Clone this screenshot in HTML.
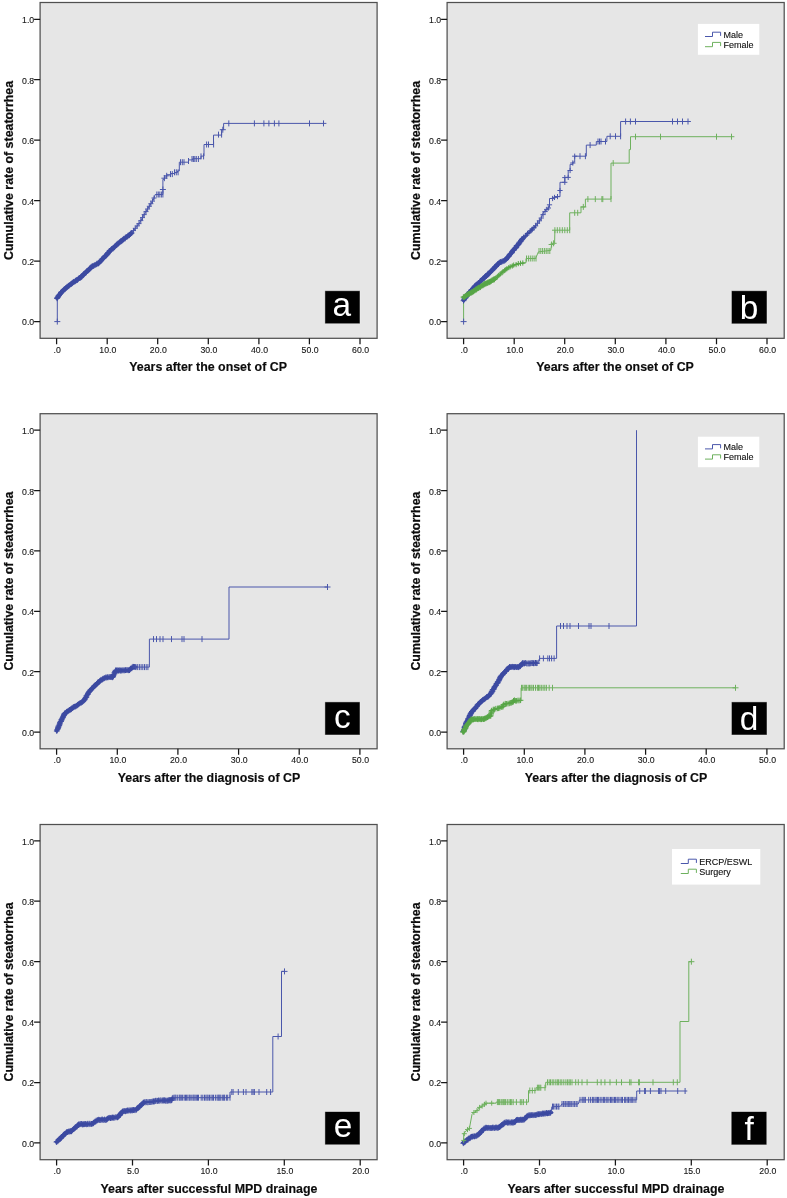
<!DOCTYPE html>
<html lang="en"><head><meta charset="utf-8"><title>Cumulative rate of steatorrhea</title>
<style>
html,body{margin:0;padding:0;background:#fff}
svg{display:block;will-change:transform;opacity:0.9999}
text{font-family:"Liberation Sans",Arial,sans-serif}
.t{font-size:9.7px;fill:#161616;stroke:#161616;stroke-width:0.12px}
.b{font-size:12.4px;font-weight:bold;fill:#0c0c0c;stroke:#0c0c0c;stroke-width:0.15px}
.v{stroke:#111;stroke-width:0.25px}
.l{font-size:9px;fill:#111;stroke:#111;stroke-width:0.12px}
.L{font-size:33.4px;fill:#fff}
</style></head><body>
<svg width="787" height="1198" viewBox="0 0 787 1198">
<rect width="787" height="1198" fill="#fff"/>
<rect x="40.1" y="2.5" width="337.0" height="335.8" fill="#e6e6e6" stroke="#505050" stroke-width="1.25"/>
<text transform="translate(34.2,325.4) scale(0.9,1)" text-anchor="end" class="t">0.0</text>
<text transform="translate(34.2,265.0) scale(0.9,1)" text-anchor="end" class="t">0.2</text>
<text transform="translate(34.2,204.5) scale(0.9,1)" text-anchor="end" class="t">0.4</text>
<text transform="translate(34.2,144.1) scale(0.9,1)" text-anchor="end" class="t">0.6</text>
<text transform="translate(34.2,83.6) scale(0.9,1)" text-anchor="end" class="t">0.8</text>
<text transform="translate(34.2,23.2) scale(0.9,1)" text-anchor="end" class="t">1.0</text>
<text transform="translate(57.2,352.6) scale(0.9,1)" text-anchor="middle" class="t">.0</text>
<text transform="translate(107.8,352.6) scale(0.9,1)" text-anchor="middle" class="t">10.0</text>
<text transform="translate(158.3,352.6) scale(0.9,1)" text-anchor="middle" class="t">20.0</text>
<text transform="translate(208.9,352.6) scale(0.9,1)" text-anchor="middle" class="t">30.0</text>
<text transform="translate(259.5,352.6) scale(0.9,1)" text-anchor="middle" class="t">40.0</text>
<text transform="translate(310.1,352.6) scale(0.9,1)" text-anchor="middle" class="t">50.0</text>
<text transform="translate(360.6,352.6) scale(0.9,1)" text-anchor="middle" class="t">60.0</text>
<path d="M34.1 321.5H40.1M34.1 261.1H40.1M34.1 200.6H40.1M34.1 140.2H40.1M34.1 79.7H40.1M34.1 19.3H40.1M56.6 338.3V344.2M107.2 338.3V344.2M157.7 338.3V344.2M208.3 338.3V344.2M258.9 338.3V344.2M309.4 338.3V344.2M360.0 338.3V344.2" stroke="#161616" stroke-width="1.25" fill="none"/>
<text x="208.1" y="370.9" text-anchor="middle" class="b">Years after the onset of CP</text>
<text transform="translate(12.7,170.4) rotate(-90)" text-anchor="middle" class="b v">Cumulative rate of steatorrhea</text>
<rect x="324.9" y="290.75" width="35.1" height="33.0" fill="#000" stroke="#f2f2f2" stroke-opacity="0.6" stroke-width="0.8"/>
<text x="332.45" y="316.20" class="L" id="La">a</text>
<rect x="447.1" y="2.5" width="337.1" height="335.8" fill="#e6e6e6" stroke="#505050" stroke-width="1.25"/>
<text transform="translate(441.2,325.4) scale(0.9,1)" text-anchor="end" class="t">0.0</text>
<text transform="translate(441.2,265.0) scale(0.9,1)" text-anchor="end" class="t">0.2</text>
<text transform="translate(441.2,204.5) scale(0.9,1)" text-anchor="end" class="t">0.4</text>
<text transform="translate(441.2,144.1) scale(0.9,1)" text-anchor="end" class="t">0.6</text>
<text transform="translate(441.2,83.6) scale(0.9,1)" text-anchor="end" class="t">0.8</text>
<text transform="translate(441.2,23.2) scale(0.9,1)" text-anchor="end" class="t">1.0</text>
<text transform="translate(464.2,352.6) scale(0.9,1)" text-anchor="middle" class="t">.0</text>
<text transform="translate(514.8,352.6) scale(0.9,1)" text-anchor="middle" class="t">10.0</text>
<text transform="translate(565.3,352.6) scale(0.9,1)" text-anchor="middle" class="t">20.0</text>
<text transform="translate(615.9,352.6) scale(0.9,1)" text-anchor="middle" class="t">30.0</text>
<text transform="translate(666.5,352.6) scale(0.9,1)" text-anchor="middle" class="t">40.0</text>
<text transform="translate(717.1,352.6) scale(0.9,1)" text-anchor="middle" class="t">50.0</text>
<text transform="translate(767.6,352.6) scale(0.9,1)" text-anchor="middle" class="t">60.0</text>
<path d="M441.1 321.5H447.1M441.1 261.1H447.1M441.1 200.6H447.1M441.1 140.2H447.1M441.1 79.7H447.1M441.1 19.3H447.1M463.6 338.3V344.2M514.2 338.3V344.2M564.7 338.3V344.2M615.3 338.3V344.2M665.9 338.3V344.2M716.5 338.3V344.2M767.0 338.3V344.2" stroke="#161616" stroke-width="1.25" fill="none"/>
<text x="615.0" y="370.9" text-anchor="middle" class="b">Years after the onset of CP</text>
<text transform="translate(419.7,170.4) rotate(-90)" text-anchor="middle" class="b v">Cumulative rate of steatorrhea</text>
<rect x="731.4" y="290.75" width="35.6" height="33.1" fill="#000" stroke="#f2f2f2" stroke-opacity="0.6" stroke-width="0.8"/>
<text x="739.75" y="318.65" class="L" id="Lb">b</text>
<rect x="40.1" y="413.7" width="337.0" height="335.1" fill="#e6e6e6" stroke="#505050" stroke-width="1.25"/>
<text transform="translate(34.2,735.9) scale(0.9,1)" text-anchor="end" class="t">0.0</text>
<text transform="translate(34.2,675.6) scale(0.9,1)" text-anchor="end" class="t">0.2</text>
<text transform="translate(34.2,615.2) scale(0.9,1)" text-anchor="end" class="t">0.4</text>
<text transform="translate(34.2,554.8) scale(0.9,1)" text-anchor="end" class="t">0.6</text>
<text transform="translate(34.2,494.5) scale(0.9,1)" text-anchor="end" class="t">0.8</text>
<text transform="translate(34.2,434.1) scale(0.9,1)" text-anchor="end" class="t">1.0</text>
<text transform="translate(57.2,763.1) scale(0.9,1)" text-anchor="middle" class="t">.0</text>
<text transform="translate(117.9,763.1) scale(0.9,1)" text-anchor="middle" class="t">10.0</text>
<text transform="translate(178.5,763.1) scale(0.9,1)" text-anchor="middle" class="t">20.0</text>
<text transform="translate(239.2,763.1) scale(0.9,1)" text-anchor="middle" class="t">30.0</text>
<text transform="translate(299.8,763.1) scale(0.9,1)" text-anchor="middle" class="t">40.0</text>
<text transform="translate(360.5,763.1) scale(0.9,1)" text-anchor="middle" class="t">50.0</text>
<path d="M34.1 732.0H40.1M34.1 671.7H40.1M34.1 611.3H40.1M34.1 550.9H40.1M34.1 490.6H40.1M34.1 430.2H40.1M56.6 748.8V754.7M117.3 748.8V754.7M177.9 748.8V754.7M238.6 748.8V754.7M299.2 748.8V754.7M359.9 748.8V754.7" stroke="#161616" stroke-width="1.25" fill="none"/>
<text x="209.0" y="782.1" text-anchor="middle" class="b">Years after the diagnosis of CP</text>
<text transform="translate(12.7,581.1) rotate(-90)" text-anchor="middle" class="b v">Cumulative rate of steatorrhea</text>
<rect x="324.9" y="701.9" width="35.1" height="33.1" fill="#000" stroke="#f2f2f2" stroke-opacity="0.6" stroke-width="0.8"/>
<text x="333.90" y="727.50" class="L" id="Lc">c</text>
<rect x="447.1" y="413.7" width="337.1" height="335.1" fill="#e6e6e6" stroke="#505050" stroke-width="1.25"/>
<text transform="translate(441.2,735.9) scale(0.9,1)" text-anchor="end" class="t">0.0</text>
<text transform="translate(441.2,675.6) scale(0.9,1)" text-anchor="end" class="t">0.2</text>
<text transform="translate(441.2,615.2) scale(0.9,1)" text-anchor="end" class="t">0.4</text>
<text transform="translate(441.2,554.8) scale(0.9,1)" text-anchor="end" class="t">0.6</text>
<text transform="translate(441.2,494.5) scale(0.9,1)" text-anchor="end" class="t">0.8</text>
<text transform="translate(441.2,434.1) scale(0.9,1)" text-anchor="end" class="t">1.0</text>
<text transform="translate(464.2,763.1) scale(0.9,1)" text-anchor="middle" class="t">.0</text>
<text transform="translate(524.9,763.1) scale(0.9,1)" text-anchor="middle" class="t">10.0</text>
<text transform="translate(585.5,763.1) scale(0.9,1)" text-anchor="middle" class="t">20.0</text>
<text transform="translate(646.2,763.1) scale(0.9,1)" text-anchor="middle" class="t">30.0</text>
<text transform="translate(706.8,763.1) scale(0.9,1)" text-anchor="middle" class="t">40.0</text>
<text transform="translate(767.5,763.1) scale(0.9,1)" text-anchor="middle" class="t">50.0</text>
<path d="M441.1 732.0H447.1M441.1 671.7H447.1M441.1 611.3H447.1M441.1 550.9H447.1M441.1 490.6H447.1M441.1 430.2H447.1M463.6 748.8V754.7M524.3 748.8V754.7M584.9 748.8V754.7M645.6 748.8V754.7M706.2 748.8V754.7M766.9 748.8V754.7" stroke="#161616" stroke-width="1.25" fill="none"/>
<text x="616.0" y="782.1" text-anchor="middle" class="b">Years after the diagnosis of CP</text>
<text transform="translate(419.7,581.1) rotate(-90)" text-anchor="middle" class="b v">Cumulative rate of steatorrhea</text>
<rect x="731.4" y="701.9" width="35.6" height="33.1" fill="#000" stroke="#f2f2f2" stroke-opacity="0.6" stroke-width="0.8"/>
<text x="739.80" y="729.75" class="L" id="Ld">d</text>
<rect x="40.1" y="824.5" width="337.0" height="335.2" fill="#e6e6e6" stroke="#505050" stroke-width="1.25"/>
<text transform="translate(34.2,1146.8) scale(0.9,1)" text-anchor="end" class="t">0.0</text>
<text transform="translate(34.2,1086.4) scale(0.9,1)" text-anchor="end" class="t">0.2</text>
<text transform="translate(34.2,1026.0) scale(0.9,1)" text-anchor="end" class="t">0.4</text>
<text transform="translate(34.2,965.5) scale(0.9,1)" text-anchor="end" class="t">0.6</text>
<text transform="translate(34.2,905.1) scale(0.9,1)" text-anchor="end" class="t">0.8</text>
<text transform="translate(34.2,844.7) scale(0.9,1)" text-anchor="end" class="t">1.0</text>
<text transform="translate(57.2,1174.0) scale(0.9,1)" text-anchor="middle" class="t">.0</text>
<text transform="translate(133.1,1174.0) scale(0.9,1)" text-anchor="middle" class="t">5.0</text>
<text transform="translate(209.0,1174.0) scale(0.9,1)" text-anchor="middle" class="t">10.0</text>
<text transform="translate(284.9,1174.0) scale(0.9,1)" text-anchor="middle" class="t">15.0</text>
<text transform="translate(360.8,1174.0) scale(0.9,1)" text-anchor="middle" class="t">20.0</text>
<path d="M34.1 1142.9H40.1M34.1 1082.5H40.1M34.1 1022.1H40.1M34.1 961.6H40.1M34.1 901.2H40.1M34.1 840.8H40.1M56.6 1159.7V1165.6M132.5 1159.7V1165.6M208.4 1159.7V1165.6M284.3 1159.7V1165.6M360.2 1159.7V1165.6" stroke="#161616" stroke-width="1.25" fill="none"/>
<text x="208.9" y="1192.7" text-anchor="middle" class="b">Years after successful MPD drainage</text>
<text transform="translate(12.7,991.9) rotate(-90)" text-anchor="middle" class="b v">Cumulative rate of steatorrhea</text>
<rect x="324.9" y="1111.6" width="35.1" height="33.2" fill="#000" stroke="#f2f2f2" stroke-opacity="0.6" stroke-width="0.8"/>
<text x="333.70" y="1137.40" class="L" id="Le">e</text>
<rect x="447.1" y="824.5" width="337.1" height="335.2" fill="#e6e6e6" stroke="#505050" stroke-width="1.25"/>
<text transform="translate(441.2,1146.8) scale(0.9,1)" text-anchor="end" class="t">0.0</text>
<text transform="translate(441.2,1086.4) scale(0.9,1)" text-anchor="end" class="t">0.2</text>
<text transform="translate(441.2,1026.0) scale(0.9,1)" text-anchor="end" class="t">0.4</text>
<text transform="translate(441.2,965.5) scale(0.9,1)" text-anchor="end" class="t">0.6</text>
<text transform="translate(441.2,905.1) scale(0.9,1)" text-anchor="end" class="t">0.8</text>
<text transform="translate(441.2,844.7) scale(0.9,1)" text-anchor="end" class="t">1.0</text>
<text transform="translate(464.2,1174.0) scale(0.9,1)" text-anchor="middle" class="t">.0</text>
<text transform="translate(540.1,1174.0) scale(0.9,1)" text-anchor="middle" class="t">5.0</text>
<text transform="translate(616.0,1174.0) scale(0.9,1)" text-anchor="middle" class="t">10.0</text>
<text transform="translate(691.9,1174.0) scale(0.9,1)" text-anchor="middle" class="t">15.0</text>
<text transform="translate(767.8,1174.0) scale(0.9,1)" text-anchor="middle" class="t">20.0</text>
<path d="M441.1 1142.9H447.1M441.1 1082.5H447.1M441.1 1022.1H447.1M441.1 961.6H447.1M441.1 901.2H447.1M441.1 840.8H447.1M463.6 1159.7V1165.6M539.5 1159.7V1165.6M615.4 1159.7V1165.6M691.3 1159.7V1165.6M767.2 1159.7V1165.6" stroke="#161616" stroke-width="1.25" fill="none"/>
<text x="615.9" y="1192.7" text-anchor="middle" class="b">Years after successful MPD drainage</text>
<text transform="translate(419.7,991.9) rotate(-90)" text-anchor="middle" class="b v">Cumulative rate of steatorrhea</text>
<rect x="731.2" y="1111.6" width="35.6" height="33.3" fill="#000" stroke="#f2f2f2" stroke-opacity="0.6" stroke-width="0.8"/>
<text x="744.50" y="1140.00" class="L" id="Lf">f</text>
<polyline points="57.3,321.6 57.3,298.3" fill="none" stroke="#4a57ab" stroke-width="1.0" />
<path d="M54.3 321.6h6.0M57.3 318.6v6.0" stroke="#4a57ab" stroke-width="1.0" fill="none"/>
<polyline points="56.9,298.3 61.0,292.5 67.9,286.2 80.1,277.8 92.3,266.3 98.4,263.3 110.6,250.3 118.2,243.5 131.9,232.8" fill="none" stroke="#3d4aa2" stroke-width="3.3" stroke-linejoin="round" stroke-linecap="round"/>
<path d="M54.1 298.4h5.7M57.0 295.5v5.7M54.5 297.8h5.7M57.4 295.0v5.7M54.8 297.3h5.7M57.6 294.4v5.7M55.3 296.7h5.7M58.1 293.8v5.7M55.5 295.9h5.7M58.4 293.1v5.7M56.2 295.6h5.7M59.1 292.7v5.7M56.3 294.9h5.7M59.1 292.0v5.7M57.1 294.4h5.7M59.9 291.5v5.7M57.7 293.5h5.7M60.6 290.6v5.7M58.0 292.7h5.7M60.9 289.9v5.7M58.5 292.0h5.7M61.3 289.1v5.7M59.4 291.6h5.7M62.2 288.7v5.7M60.0 290.6h5.7M62.9 287.8v5.7M60.8 290.3h5.7M63.6 287.5v5.7M61.2 289.4h5.7M64.1 286.6v5.7M61.9 289.4h5.7M64.7 286.5v5.7M62.2 288.9h5.7M65.0 286.1v5.7M62.6 288.5h5.7M65.5 285.6v5.7M63.1 287.8h5.7M66.0 285.0v5.7M63.7 287.6h5.7M66.6 284.7v5.7M64.2 286.8h5.7M67.1 283.9v5.7M65.3 286.3h5.7M68.1 283.5v5.7M65.8 285.8h5.7M68.7 283.0v5.7M66.3 285.5h5.7M69.1 282.6v5.7M67.0 285.0h5.7M69.8 282.2v5.7M67.7 284.3h5.7M70.6 281.4v5.7M68.6 283.8h5.7M71.5 281.0v5.7M69.0 283.4h5.7M71.8 280.6v5.7M69.5 283.2h5.7M72.3 280.3v5.7M69.9 282.5h5.7M72.8 279.7v5.7M70.7 281.9h5.7M73.6 279.1v5.7M71.2 281.7h5.7M74.1 278.9v5.7M72.2 281.3h5.7M75.1 278.5v5.7M72.8 280.8h5.7M75.6 277.9v5.7M73.3 280.5h5.7M76.1 277.6v5.7M73.8 280.1h5.7M76.7 277.2v5.7M74.5 280.1h5.7M77.4 277.2v5.7M75.1 279.2h5.7M78.0 276.4v5.7M75.6 278.5h5.7M78.5 275.7v5.7M76.6 278.0h5.7M79.4 275.1v5.7M77.4 277.9h5.7M80.3 275.0v5.7M78.1 277.3h5.7M81.0 274.4v5.7M78.5 276.8h5.7M81.4 274.0v5.7M79.0 276.6h5.7M81.9 273.7v5.7M79.0 275.8h5.7M81.9 273.0v5.7M80.1 275.3h5.7M82.9 272.5v5.7M80.2 274.7h5.7M83.1 271.9v5.7M80.8 274.1h5.7M83.7 271.2v5.7M81.7 273.5h5.7M84.6 270.7v5.7M82.5 272.8h5.7M85.4 270.0v5.7M83.1 272.6h5.7M85.9 269.7v5.7M83.4 272.2h5.7M86.3 269.4v5.7M83.6 271.4h5.7M86.5 268.6v5.7M84.2 271.2h5.7M87.1 268.3v5.7M84.8 270.9h5.7M87.7 268.0v5.7M85.3 270.0h5.7M88.1 267.2v5.7M85.9 269.8h5.7M88.8 266.9v5.7M86.7 269.3h5.7M89.5 266.4v5.7M86.8 268.5h5.7M89.6 265.6v5.7M87.8 268.3h5.7M90.6 265.5v5.7M88.0 267.5h5.7M90.9 264.7v5.7M88.4 267.1h5.7M91.2 264.2v5.7M89.0 266.4h5.7M91.9 263.6v5.7M89.7 266.1h5.7M92.6 263.3v5.7M90.5 266.0h5.7M93.3 263.2v5.7M91.4 265.5h5.7M94.2 262.6v5.7M92.1 265.1h5.7M94.9 262.2v5.7M92.9 264.8h5.7M95.8 261.9v5.7M93.7 264.1h5.7M96.6 261.3v5.7M94.3 263.6h5.7M97.1 260.7v5.7M95.1 263.5h5.7M97.9 260.7v5.7M95.7 263.3h5.7M98.5 260.5v5.7M96.5 262.6h5.7M99.3 259.8v5.7M97.3 261.9h5.7M100.1 259.0v5.7M97.9 261.0h5.7M100.7 258.1v5.7M98.4 260.4h5.7M101.2 257.6v5.7M98.8 259.3h5.7M101.7 256.5v5.7M99.3 259.1h5.7M102.2 256.2v5.7M100.1 258.6h5.7M102.9 255.8v5.7M100.5 258.2h5.7M103.3 255.3v5.7M101.1 257.6h5.7M103.9 254.8v5.7M101.9 256.9h5.7M104.7 254.0v5.7M102.0 256.1h5.7M104.8 253.2v5.7M103.0 255.8h5.7M105.9 252.9v5.7M103.6 255.1h5.7M106.5 252.3v5.7M103.9 254.7h5.7M106.7 251.8v5.7M104.5 254.1h5.7M107.4 251.2v5.7M105.0 253.6h5.7M107.8 250.7v5.7M105.0 252.7h5.7M107.9 249.9v5.7M106.1 252.3h5.7M108.9 249.4v5.7M106.4 251.3h5.7M109.3 248.4v5.7M106.8 250.9h5.7M109.6 248.0v5.7M107.5 250.7h5.7M110.4 247.8v5.7M107.8 250.2h5.7M110.7 247.3v5.7M108.5 249.4h5.7M111.4 246.5v5.7M108.8 249.0h5.7M111.7 246.1v5.7M109.9 248.7h5.7M112.8 245.9v5.7M110.5 247.8h5.7M113.3 245.0v5.7M111.1 247.5h5.7M114.0 244.7v5.7M111.6 247.2h5.7M114.4 244.3v5.7M112.2 246.2h5.7M115.0 243.4v5.7M112.9 245.6h5.7M115.7 242.8v5.7M113.7 245.1h5.7M116.6 242.3v5.7M114.0 244.3h5.7M116.9 241.5v5.7M115.2 244.0h5.7M118.0 241.2v5.7M115.4 243.2h5.7M118.2 240.4v5.7M116.2 242.7h5.7M119.1 239.9v5.7M116.8 242.0h5.7M119.7 239.2v5.7M117.6 241.4h5.7M120.5 238.5v5.7M118.3 241.4h5.7M121.2 238.5v5.7M118.9 241.0h5.7M121.8 238.2v5.7M119.3 240.2h5.7M122.2 237.4v5.7M120.0 240.1h5.7M122.8 237.2v5.7M120.4 239.4h5.7M123.2 236.6v5.7M120.9 238.7h5.7M123.8 235.9v5.7M122.1 238.6h5.7M125.0 235.7v5.7M122.5 237.6h5.7M125.3 234.8v5.7M123.3 237.0h5.7M126.1 234.2v5.7M124.1 237.0h5.7M126.9 234.1v5.7M124.8 236.3h5.7M127.7 233.4v5.7M125.4 235.6h5.7M128.2 232.7v5.7M126.3 235.3h5.7M129.2 232.5v5.7M126.7 234.7h5.7M129.5 231.9v5.7M127.6 234.2h5.7M130.4 231.3v5.7M128.0 233.4h5.7M130.8 230.5v5.7M128.8 233.0h5.7M131.7 230.1v5.7" stroke="#3d4aa2" stroke-width="1.0" fill="none"/>
<polyline points="131.9,232.8 139.5,222.9 145.6,212.2 149.1,206.7 153.7,199.1 155.2,194.5 162.9,194.5 162.9,179.3 164.4,179.3 164.4,177.0 166.7,177.0 166.7,174.7 171.0,174.7 171.0,173.5 175.0,173.5 175.0,172.5 177.5,172.5 177.5,171.0 179.3,171.0 179.3,162.2 188.5,162.2 188.5,159.9 192.6,159.9 192.6,158.7 201.0,158.7 201.0,156.1 204.0,156.1 204.0,144.5 213.5,144.5 213.5,135.1 221.6,135.1 221.6,129.7 223.6,129.7 223.6,123.4 323.5,123.4" fill="none" stroke="#4a57ab" stroke-width="1.0" />
<path d="M131.0 230.6h5.0M133.5 228.1v5.0M132.8 228.3h5.0M135.3 225.8v5.0M134.7 225.9h5.0M137.2 223.4v5.0M136.5 223.6h5.0M139.0 221.1v5.0M138.3 220.6h5.0M140.8 218.1v5.0M140.0 217.6h5.0M142.5 215.1v5.0M141.7 214.6h5.0M144.2 212.1v5.0M143.5 211.6h5.0M146.0 209.1v5.0M145.1 209.0h5.0M147.6 206.5v5.0M146.8 206.3h5.0M149.3 203.8v5.0M148.4 203.7h5.0M150.9 201.2v5.0M150.0 201.1h5.0M152.5 198.6v5.0M151.5 198.0h5.0M154.0 195.5v5.0" stroke="#4a57ab" stroke-width="1.0" fill="none"/>
<path d="M156.8 191.5v6.0M158.3 191.5v6.0M159.8 191.5v6.0M161.4 191.5v6.0M162.9 191.5v6.0" stroke="#4a57ab" stroke-width="1.0" fill="none"/>
<path d="M159.9 189.5h6.0M162.9 186.5v6.0" stroke="#4a57ab" stroke-width="1.0" fill="none"/>
<path d="M161.4 178.2h6.0M164.4 175.2v6.0M163.7 175.8h6.0M166.7 172.8v6.0" stroke="#4a57ab" stroke-width="1.0" fill="none"/>
<path d="M170.5 171.1v6.0M172.3 171.1v6.0" stroke="#4a57ab" stroke-width="1.0" fill="none"/>
<path d="M174.5 169.3v6.0M176.3 169.3v6.0M178.1 169.3v6.0" stroke="#4a57ab" stroke-width="1.0" fill="none"/>
<path d="M180.5 159.2v6.0M182.3 159.2v6.0M184.0 159.2v6.0" stroke="#4a57ab" stroke-width="1.0" fill="none"/>
<path d="M188.5 158.0v6.0" stroke="#4a57ab" stroke-width="1.0" fill="none"/>
<path d="M192.0 156.0v6.0M193.4 156.0v6.0M194.8 156.0v6.0M196.3 156.0v6.0M198.4 156.0v6.0" stroke="#4a57ab" stroke-width="1.0" fill="none"/>
<path d="M201.0 153.4v6.0M203.6 153.4v6.0" stroke="#4a57ab" stroke-width="1.0" fill="none"/>
<path d="M206.6 141.5v6.0M208.5 141.5v6.0M213.6 141.5v6.0" stroke="#4a57ab" stroke-width="1.0" fill="none"/>
<path d="M218.5 131.6v6.0M221.6 131.6v6.0" stroke="#4a57ab" stroke-width="1.0" fill="none"/>
<path d="M219.8 129.7h6.0M222.8 126.7v6.0" stroke="#4a57ab" stroke-width="1.0" fill="none"/>
<path d="M228.8 120.4v6.0M254.4 120.4v6.0M263.9 120.4v6.0M268.9 120.4v6.0M274.4 120.4v6.0M278.9 120.4v6.0M309.5 120.4v6.0M323.5 120.4v6.0" stroke="#4a57ab" stroke-width="1.0" fill="none"/>
<polyline points="323.5,123.4 326.4,123.4" fill="none" stroke="#4a57ab" stroke-width="1.0" />
<polyline points="463.6,321.6 463.6,298.0" fill="none" stroke="#6eb15e" stroke-width="1.0" />
<path d="M460.6 321.6h6.0M463.6 318.6v6.0" stroke="#4a57ab" stroke-width="1.0" fill="none"/>
<polyline points="463.6,300.7 468.0,294.0 474.8,286.6 488.0,274.2 499.6,262.7 506.2,259.4 512.8,251.1 522.7,238.7" fill="none" stroke="#3d4aa2" stroke-width="3.3" stroke-linejoin="round" stroke-linecap="round"/>
<path d="M460.7 300.7h5.7M463.5 297.8v5.7M461.2 299.7h5.7M464.0 296.9v5.7M461.6 298.7h5.7M464.5 295.9v5.7M462.5 298.0h5.7M465.3 295.2v5.7M462.8 297.6h5.7M465.6 294.7v5.7M463.0 297.0h5.7M465.8 294.2v5.7M463.2 296.5h5.7M466.0 293.6v5.7M463.9 296.2h5.7M466.7 293.4v5.7M463.9 295.6h5.7M466.7 292.8v5.7M464.6 295.2h5.7M467.5 292.4v5.7M464.6 294.6h5.7M467.5 291.8v5.7M465.2 294.2h5.7M468.0 291.3v5.7M465.6 293.7h5.7M468.4 290.9v5.7M466.1 293.0h5.7M468.9 290.2v5.7M466.4 292.2h5.7M469.2 289.3v5.7M467.1 291.9h5.7M469.9 289.1v5.7M467.8 291.5h5.7M470.6 288.6v5.7M468.3 291.0h5.7M471.1 288.2v5.7M468.4 290.3h5.7M471.2 287.4v5.7M469.0 289.6h5.7M471.8 286.7v5.7M469.8 289.1h5.7M472.6 286.3v5.7M470.0 288.4h5.7M472.8 285.5v5.7M471.0 287.9h5.7M473.9 285.1v5.7M471.6 287.3h5.7M474.4 284.5v5.7M471.7 286.4h5.7M474.5 283.6v5.7M472.5 285.8h5.7M475.3 282.9v5.7M473.1 285.1h5.7M475.9 282.2v5.7M473.7 284.8h5.7M476.6 281.9v5.7M474.3 283.9h5.7M477.2 281.1v5.7M475.4 283.7h5.7M478.3 280.9v5.7M475.8 282.9h5.7M478.7 280.0v5.7M476.7 282.4h5.7M479.6 279.5v5.7M477.3 281.4h5.7M480.1 278.5v5.7M477.8 280.9h5.7M480.6 278.0v5.7M478.4 280.7h5.7M481.2 277.8v5.7M479.0 280.1h5.7M481.8 277.2v5.7M479.7 279.3h5.7M482.5 276.5v5.7M480.0 278.8h5.7M482.9 275.9v5.7M480.6 278.3h5.7M483.5 275.4v5.7M481.3 278.0h5.7M484.1 275.2v5.7M481.6 277.4h5.7M484.5 274.5v5.7M482.2 277.1h5.7M485.0 274.2v5.7M482.6 276.4h5.7M485.4 273.5v5.7M483.2 276.1h5.7M486.0 273.3v5.7M483.7 275.9h5.7M486.5 273.1v5.7M484.1 274.9h5.7M487.0 272.1v5.7M484.7 274.8h5.7M487.6 272.0v5.7M485.2 274.4h5.7M488.0 271.6v5.7M485.2 273.7h5.7M488.0 270.8v5.7M486.1 273.5h5.7M488.9 270.7v5.7M486.7 272.8h5.7M489.6 270.0v5.7M487.0 272.3h5.7M489.9 269.5v5.7M487.8 271.7h5.7M490.7 268.9v5.7M488.4 271.0h5.7M491.2 268.1v5.7M488.9 270.4h5.7M491.7 267.5v5.7M489.7 270.1h5.7M492.6 267.3v5.7M490.1 269.1h5.7M493.0 266.3v5.7M491.0 268.5h5.7M493.9 265.7v5.7M491.6 267.8h5.7M494.4 265.0v5.7M492.0 267.0h5.7M494.8 264.2v5.7M492.6 266.8h5.7M495.4 264.0v5.7M493.2 266.5h5.7M496.0 263.7v5.7M493.3 265.7h5.7M496.2 262.9v5.7M494.0 265.1h5.7M496.8 262.3v5.7M494.6 264.5h5.7M497.5 261.7v5.7M494.9 264.0h5.7M497.7 261.2v5.7M495.7 264.0h5.7M498.5 261.1v5.7M496.1 263.3h5.7M498.9 260.4v5.7M496.5 262.8h5.7M499.3 259.9v5.7M497.3 262.3h5.7M500.1 259.4v5.7M497.7 262.0h5.7M500.6 259.2v5.7M498.4 261.9h5.7M501.2 259.1v5.7M499.3 261.4h5.7M502.1 258.6v5.7M500.1 261.2h5.7M503.0 258.4v5.7M501.1 260.9h5.7M503.9 258.0v5.7M501.8 260.5h5.7M504.7 257.7v5.7M502.6 259.9h5.7M505.4 257.0v5.7M503.3 259.4h5.7M506.1 256.5v5.7M503.7 258.5h5.7M506.6 255.6v5.7M504.3 257.7h5.7M507.2 254.9v5.7M504.9 257.3h5.7M507.7 254.5v5.7M505.4 256.6h5.7M508.3 253.8v5.7M506.1 256.2h5.7M508.9 253.4v5.7M506.4 255.2h5.7M509.3 252.4v5.7M507.1 254.4h5.7M509.9 251.6v5.7M507.7 253.7h5.7M510.5 250.9v5.7M508.6 253.2h5.7M511.4 250.4v5.7M509.1 252.4h5.7M512.0 249.5v5.7M509.3 251.4h5.7M512.2 248.6v5.7M510.0 250.7h5.7M512.9 247.9v5.7M510.5 250.0h5.7M513.4 247.1v5.7M511.2 249.9h5.7M514.0 247.0v5.7M511.5 249.3h5.7M514.3 246.4v5.7M511.9 248.3h5.7M514.7 245.4v5.7M512.6 248.1h5.7M515.5 245.3v5.7M513.1 247.7h5.7M515.9 244.9v5.7M513.7 246.9h5.7M516.5 244.0v5.7M513.6 246.0h5.7M516.5 243.1v5.7M514.1 245.4h5.7M516.9 242.5v5.7M515.2 245.0h5.7M518.1 242.2v5.7M515.5 244.4h5.7M518.3 241.6v5.7M515.8 243.9h5.7M518.7 241.1v5.7M516.5 243.1h5.7M519.3 240.2v5.7M516.8 242.1h5.7M519.6 239.2v5.7M517.8 241.6h5.7M520.6 238.7v5.7M518.0 240.7h5.7M520.8 237.8v5.7M518.6 240.1h5.7M521.4 237.3v5.7M519.0 239.5h5.7M521.9 236.6v5.7M519.4 238.9h5.7M522.2 236.1v5.7" stroke="#3d4aa2" stroke-width="1.0" fill="none"/>
<polyline points="522.7,238.7 527.7,233.8 535.9,225.5" fill="none" stroke="#3d4aa2" stroke-width="1.2" stroke-linejoin="round" stroke-linecap="round"/>
<path d="M520.1 238.7h5.2M522.7 236.1v5.2M521.0 237.3h5.2M523.6 234.7v5.2M522.7 236.3h5.2M525.3 233.7v5.2M523.5 235.3h5.2M526.1 232.7v5.2M524.9 233.5h5.2M527.5 230.9v5.2M526.3 232.8h5.2M528.9 230.2v5.2M527.7 230.9h5.2M530.3 228.3v5.2M529.1 230.2h5.2M531.7 227.6v5.2M529.7 229.1h5.2M532.3 226.5v5.2M531.4 227.7h5.2M534.0 225.1v5.2M533.0 225.9h5.2M535.6 223.3v5.2" stroke="#3d4aa2" stroke-width="1.0" fill="none"/>
<polyline points="463.6,297.4 471.5,292.4 483.1,285.0 494.6,279.2" fill="none" stroke="#58a647" stroke-width="3.3" stroke-linejoin="round" stroke-linecap="round"/>
<path d="M460.6 297.1h5.7M463.4 294.3v5.7M461.2 297.1h5.7M464.1 294.3v5.7M462.1 296.6h5.7M464.9 293.7v5.7M462.7 296.2h5.7M465.6 293.4v5.7M463.5 295.4h5.7M466.3 292.6v5.7M464.1 295.0h5.7M466.9 292.2v5.7M465.0 294.5h5.7M467.8 291.6v5.7M465.6 294.0h5.7M468.4 291.1v5.7M466.4 293.8h5.7M469.3 290.9v5.7M467.2 293.1h5.7M470.0 290.3v5.7M468.0 292.7h5.7M470.9 289.9v5.7M468.8 292.6h5.7M471.7 289.7v5.7M469.2 291.9h5.7M472.0 289.0v5.7M469.8 291.9h5.7M472.7 289.1v5.7M470.7 291.3h5.7M473.5 288.5v5.7M471.0 290.8h5.7M473.9 288.0v5.7M471.9 290.5h5.7M474.8 287.6v5.7M472.6 289.6h5.7M475.4 286.7v5.7M473.3 289.8h5.7M476.2 286.9v5.7M473.8 288.9h5.7M476.7 286.1v5.7M474.8 288.4h5.7M477.6 285.6v5.7M475.4 288.0h5.7M478.3 285.2v5.7M475.8 287.6h5.7M478.6 284.8v5.7M476.8 287.5h5.7M479.7 284.6v5.7M477.7 287.0h5.7M480.5 284.2v5.7M478.2 286.2h5.7M481.0 283.4v5.7M479.1 285.7h5.7M481.9 282.9v5.7M480.2 285.4h5.7M483.0 282.5v5.7M480.5 284.5h5.7M483.3 281.6v5.7M481.4 284.4h5.7M484.2 281.6v5.7M481.8 283.8h5.7M484.7 281.0v5.7M482.8 283.7h5.7M485.6 280.8v5.7M483.3 283.5h5.7M486.2 280.6v5.7M484.0 283.1h5.7M486.9 280.3v5.7M484.8 282.9h5.7M487.7 280.1v5.7M485.1 282.3h5.7M488.0 279.4v5.7M486.0 282.4h5.7M488.9 279.5v5.7M486.5 281.9h5.7M489.4 279.1v5.7M487.0 281.8h5.7M489.9 278.9v5.7M487.7 281.4h5.7M490.6 278.6v5.7M488.4 281.0h5.7M491.3 278.2v5.7M489.2 280.2h5.7M492.1 277.3v5.7M490.1 280.1h5.7M492.9 277.3v5.7M490.6 279.4h5.7M493.4 276.6v5.7M491.6 279.5h5.7M494.4 276.6v5.7" stroke="#58a647" stroke-width="1.0" fill="none"/>
<polyline points="494.6,279.2 502.9,271.8 507.9,267.6 516.1,264.3 526.0,262.7 526.0,258.5 535.9,258.5 535.9,257.7 538.4,251.9 550.8,250.3 551.6,244.5 554.6,242.9 554.9,230.2 569.7,230.2 569.7,212.8 581.0,212.8 581.0,207.0 585.4,207.0 585.4,199.1 611.0,199.1 611.0,163.1 629.2,163.1 629.2,149.6 630.5,149.6 630.5,136.7 731.5,136.7" fill="none" stroke="#6eb15e" stroke-width="1.0" />
<polyline points="494.6,279.2 502.9,271.8 507.9,267.6 516.1,264.3 524.0,263.0" fill="none" stroke="#58a647" stroke-width="1.2" stroke-linejoin="round" stroke-linecap="round"/>
<path d="M491.8 279.0h5.2M494.4 276.4v5.2M493.1 278.1h5.2M495.7 275.5v5.2M494.8 276.7h5.2M497.4 274.1v5.2M496.1 275.4h5.2M498.7 272.8v5.2M497.6 274.1h5.2M500.2 271.5v5.2M499.3 272.8h5.2M501.9 270.2v5.2M500.4 271.7h5.2M503.0 269.1v5.2M502.1 270.4h5.2M504.7 267.8v5.2M503.2 269.6h5.2M505.8 267.0v5.2M504.3 268.7h5.2M506.9 266.1v5.2M506.2 267.6h5.2M508.8 265.0v5.2M507.6 266.8h5.2M510.2 264.2v5.2M509.7 266.0h5.2M512.3 263.4v5.2M511.1 265.1h5.2M513.7 262.5v5.2M513.5 264.6h5.2M516.1 262.0v5.2M515.7 263.6h5.2M518.3 261.0v5.2M517.9 263.3h5.2M520.5 260.7v5.2M520.2 263.0h5.2M522.8 260.4v5.2" stroke="#58a647" stroke-width="1.0" fill="none"/>
<path d="M526.5 255.5v6.0M528.4 255.5v6.0M530.3 255.5v6.0M532.2 255.5v6.0M534.1 255.5v6.0M536.0 255.5v6.0" stroke="#6eb15e" stroke-width="1.0" fill="none"/>
<path d="M539.0 248.0v6.0M540.8 248.0v6.0M542.6 248.0v6.0M544.4 248.0v6.0M546.2 248.0v6.0M548.0 248.0v6.0M549.8 248.0v6.0" stroke="#6eb15e" stroke-width="1.0" fill="none"/>
<path d="M548.6 244.5h6.0M551.6 241.5v6.0M550.6 243.3h6.0M553.6 240.3v6.0" stroke="#6eb15e" stroke-width="1.0" fill="none"/>
<path d="M554.9 227.2v6.0M557.3 227.2v6.0M559.8 227.2v6.0M562.3 227.2v6.0M564.8 227.2v6.0M567.3 227.2v6.0M569.7 227.2v6.0" stroke="#6eb15e" stroke-width="1.0" fill="none"/>
<path d="M574.7 209.8v6.0M577.7 209.8v6.0" stroke="#6eb15e" stroke-width="1.0" fill="none"/>
<path d="M580.3 206.9h6.0M583.3 203.9v6.0" stroke="#6eb15e" stroke-width="1.0" fill="none"/>
<path d="M587.9 196.1v6.0M595.3 196.1v6.0M601.9 196.1v6.0M602.8 196.1v6.0M611.0 196.1v6.0" stroke="#6eb15e" stroke-width="1.0" fill="none"/>
<path d="M613.2 160.1v6.0" stroke="#6eb15e" stroke-width="1.0" fill="none"/>
<path d="M635.5 133.7v6.0M660.5 133.7v6.0M716.5 133.7v6.0M731.5 133.7v6.0" stroke="#6eb15e" stroke-width="1.0" fill="none"/>
<polyline points="731.5,136.7 734.4,136.7" fill="none" stroke="#6eb15e" stroke-width="1.0" />
<polyline points="552.0,230.2 554.9,230.2" fill="none" stroke="#6eb15e" stroke-width="1.0" />
<polyline points="535.9,225.5 540.9,218.9 543.0,213.2 546.5,209.5 549.5,207.1 549.5,198.5 554.5,198.5 554.5,196.6 560.0,196.6 560.0,182.3 564.8,182.3 564.8,177.4 568.2,177.4 568.2,170.5 570.1,170.5 570.1,164.4 572.8,164.4 572.8,162.1 574.7,162.1 574.7,156.2 586.3,156.2 586.3,145.1 596.3,145.1 596.3,141.5 606.9,141.5 606.9,136.3 620.6,136.3 620.6,121.5 688.0,121.5" fill="none" stroke="#4a57ab" stroke-width="1.0" />
<path d="M534.9 223.3h5.2M537.5 220.7v5.2M536.8 220.8h5.2M539.4 218.2v5.2M538.7 218.0h5.2M541.3 215.4v5.2M540.5 214.6h5.2M543.1 212.0v5.2M542.4 211.6h5.2M545.0 209.0v5.2M544.2 209.4h5.2M546.8 206.8v5.2M545.8 208.0h5.2M548.4 205.4v5.2M546.9 204.8h5.2M549.5 202.2v5.2M550.0 198.5h5.2M552.6 195.9v5.2M551.9 197.4h5.2M554.5 194.8v5.2M554.9 196.6h5.2M557.5 194.0v5.2M557.4 190.5h5.2M560.0 187.9v5.2M562.2 182.3h5.2M564.8 179.7v5.2M562.2 177.6h5.2M564.8 175.0v5.2M565.6 177.4h5.2M568.2 174.8v5.2M567.5 170.5h5.2M570.1 167.9v5.2M570.2 163.0h5.2M572.8 160.4v5.2M572.1 156.2h5.2M574.7 153.6v5.2" stroke="#4a57ab" stroke-width="1.0" fill="none"/>
<path d="M580.0 153.2v6.0M585.4 153.2v6.0" stroke="#4a57ab" stroke-width="1.0" fill="none"/>
<path d="M590.1 142.1v6.0" stroke="#4a57ab" stroke-width="1.0" fill="none"/>
<path d="M598.0 138.5v6.0M599.5 138.5v6.0M601.0 138.5v6.0M605.5 138.5v6.0" stroke="#4a57ab" stroke-width="1.0" fill="none"/>
<path d="M610.2 133.3v6.0M615.5 133.3v6.0M620.6 133.3v6.0" stroke="#4a57ab" stroke-width="1.0" fill="none"/>
<path d="M625.6 118.5v6.0M630.4 118.5v6.0M635.5 118.5v6.0M672.5 118.5v6.0M677.5 118.5v6.0M682.5 118.5v6.0M688.0 118.5v6.0" stroke="#4a57ab" stroke-width="1.0" fill="none"/>
<polyline points="688.0,121.5 690.9,121.5" fill="none" stroke="#4a57ab" stroke-width="1.0" />
<polyline points="56.6,731.0 59.9,723.2 64.8,713.3 74.7,706.7 83.8,700.9 89.6,691.0 99.5,681.1 104.5,677.8 112.7,677.0 116.0,670.4 129.2,670.4 132.5,667.1 136.0,667.1" fill="none" stroke="#3d4aa2" stroke-width="3.3" stroke-linejoin="round" stroke-linecap="round"/>
<path d="M53.9 731.1h5.7M56.8 728.2v5.7M54.1 730.1h5.7M56.9 727.2v5.7M54.7 729.4h5.7M57.6 726.6v5.7M55.0 728.4h5.7M57.8 725.6v5.7M55.2 728.0h5.7M58.0 725.1v5.7M55.4 727.3h5.7M58.3 724.5v5.7M55.7 726.9h5.7M58.6 724.1v5.7M55.6 726.1h5.7M58.5 723.2v5.7M56.4 725.6h5.7M59.3 722.7v5.7M56.6 724.7h5.7M59.4 721.9v5.7M56.8 723.9h5.7M59.6 721.1v5.7M57.0 723.2h5.7M59.9 720.4v5.7M57.1 722.3h5.7M60.0 719.4v5.7M57.9 721.6h5.7M60.7 718.8v5.7M58.3 721.3h5.7M61.2 718.4v5.7M58.6 720.3h5.7M61.4 717.5v5.7M58.6 719.6h5.7M61.4 716.8v5.7M59.2 719.0h5.7M62.0 716.2v5.7M59.4 718.2h5.7M62.2 715.3v5.7M60.0 717.7h5.7M62.8 714.9v5.7M60.3 717.0h5.7M63.2 714.1v5.7M60.4 716.3h5.7M63.3 713.4v5.7M60.9 715.6h5.7M63.7 712.7v5.7M61.0 715.0h5.7M63.9 712.1v5.7M61.4 714.6h5.7M64.2 711.8v5.7M61.6 713.6h5.7M64.5 710.7v5.7M62.2 713.2h5.7M65.0 710.4v5.7M62.8 713.0h5.7M65.7 710.2v5.7M63.4 712.5h5.7M66.2 709.7v5.7M63.8 711.8h5.7M66.6 708.9v5.7M64.8 711.6h5.7M67.6 708.8v5.7M65.3 710.9h5.7M68.1 708.0v5.7M66.0 710.7h5.7M68.8 707.8v5.7M66.6 709.8h5.7M69.4 707.0v5.7M67.3 709.9h5.7M70.1 707.0v5.7M67.7 709.4h5.7M70.5 706.5v5.7M68.5 709.2h5.7M71.4 706.4v5.7M69.0 708.3h5.7M71.8 705.4v5.7M69.8 708.1h5.7M72.6 705.3v5.7M70.3 707.4h5.7M73.1 704.6v5.7M70.8 707.0h5.7M73.6 704.2v5.7M71.7 706.7h5.7M74.5 703.8v5.7M72.7 706.6h5.7M75.6 703.7v5.7M73.4 705.9h5.7M76.3 703.0v5.7M74.1 705.6h5.7M77.0 702.7v5.7M74.7 705.0h5.7M77.6 702.1v5.7M75.2 704.6h5.7M78.0 701.8v5.7M75.8 704.0h5.7M78.6 701.2v5.7M76.7 703.6h5.7M79.6 700.7v5.7M77.5 702.8h5.7M80.3 700.0v5.7M78.5 702.7h5.7M81.4 699.8v5.7M79.2 701.9h5.7M82.1 699.1v5.7M79.8 701.7h5.7M82.6 698.9v5.7M80.1 701.2h5.7M83.0 698.3v5.7M80.8 700.8h5.7M83.7 697.9v5.7M81.0 700.2h5.7M83.8 697.3v5.7M81.9 699.7h5.7M84.7 696.8v5.7M82.0 698.9h5.7M84.9 696.0v5.7M82.5 698.1h5.7M85.3 695.2v5.7M83.1 697.4h5.7M86.0 694.6v5.7M83.6 697.0h5.7M86.4 694.1v5.7M83.5 695.9h5.7M86.3 693.1v5.7M84.1 695.2h5.7M86.9 692.4v5.7M84.9 694.5h5.7M87.7 691.6v5.7M85.1 693.6h5.7M88.0 690.8v5.7M85.6 692.6h5.7M88.4 689.8v5.7M86.1 691.9h5.7M89.0 689.1v5.7M86.6 691.3h5.7M89.4 688.5v5.7M87.2 690.9h5.7M90.0 688.0v5.7M87.4 690.1h5.7M90.3 687.2v5.7M88.5 689.7h5.7M91.4 686.8v5.7M88.9 688.6h5.7M91.8 685.7v5.7M89.6 688.4h5.7M92.5 685.5v5.7M90.2 687.7h5.7M93.1 684.9v5.7M90.6 687.1h5.7M93.4 684.2v5.7M91.1 686.4h5.7M93.9 683.6v5.7M91.6 685.9h5.7M94.4 683.1v5.7M92.3 685.3h5.7M95.2 682.4v5.7M92.9 684.9h5.7M95.8 682.1v5.7M93.6 684.4h5.7M96.4 681.5v5.7M93.9 683.9h5.7M96.7 681.0v5.7M94.4 683.6h5.7M97.3 680.8v5.7M94.8 682.5h5.7M97.6 679.7v5.7M95.6 682.6h5.7M98.4 679.7v5.7M96.0 682.0h5.7M98.9 679.2v5.7M96.7 681.3h5.7M99.6 678.4v5.7M97.2 681.1h5.7M100.0 678.2v5.7M97.5 680.4h5.7M100.4 677.6v5.7M98.3 679.7h5.7M101.1 676.9v5.7M99.2 679.8h5.7M102.1 676.9v5.7M99.9 679.0h5.7M102.8 676.1v5.7M100.3 678.6h5.7M103.2 675.8v5.7M101.3 678.3h5.7M104.2 675.5v5.7M102.0 678.0h5.7M104.8 675.1v5.7M102.9 677.4h5.7M105.7 674.6v5.7M103.8 677.5h5.7M106.7 674.7v5.7M104.5 677.3h5.7M107.4 674.4v5.7M105.3 677.4h5.7M108.1 674.5v5.7M106.3 677.1h5.7M109.2 674.2v5.7M107.4 677.1h5.7M110.2 674.3v5.7M108.0 676.9h5.7M110.9 674.1v5.7M108.8 677.1h5.7M111.7 674.2v5.7M109.5 677.3h5.7M112.4 674.5v5.7M110.3 676.8h5.7M113.1 674.0v5.7M110.2 676.2h5.7M113.1 673.3v5.7M110.6 675.6h5.7M113.5 672.7v5.7M110.8 674.6h5.7M113.7 671.8v5.7M111.7 673.8h5.7M114.5 671.0v5.7M111.6 672.7h5.7M114.5 669.9v5.7M112.3 672.3h5.7M115.1 669.4v5.7M112.3 671.5h5.7M115.2 668.7v5.7M112.8 671.1h5.7M115.6 668.3v5.7M112.8 670.3h5.7M115.7 667.4v5.7M113.7 670.5h5.7M116.5 667.6v5.7M114.3 670.7h5.7M117.1 667.8v5.7M114.9 670.2h5.7M117.8 667.4v5.7M115.7 670.6h5.7M118.5 667.8v5.7M116.4 670.2h5.7M119.3 667.4v5.7M117.3 670.7h5.7M120.1 667.8v5.7M117.9 670.5h5.7M120.7 667.6v5.7M118.5 670.6h5.7M121.3 667.7v5.7M119.3 670.3h5.7M122.2 667.5v5.7M120.2 670.4h5.7M123.1 667.5v5.7M121.1 670.4h5.7M124.0 667.5v5.7M121.9 670.3h5.7M124.8 667.5v5.7M122.6 670.1h5.7M125.5 667.3v5.7M123.4 670.1h5.7M126.2 667.3v5.7M124.4 670.1h5.7M127.2 667.2v5.7M125.4 670.2h5.7M128.2 667.4v5.7M125.9 670.2h5.7M128.8 667.4v5.7M126.6 670.1h5.7M129.5 667.3v5.7M127.4 669.4h5.7M130.2 666.5v5.7M127.9 668.5h5.7M130.7 665.7v5.7M128.9 668.3h5.7M131.7 665.5v5.7M129.4 667.4h5.7M132.2 664.5v5.7M130.1 666.8h5.7M133.0 663.9v5.7M130.7 666.8h5.7M133.6 664.0v5.7M131.5 666.8h5.7M134.4 664.0v5.7M132.4 667.0h5.7M135.3 664.2v5.7" stroke="#3d4aa2" stroke-width="1.0" fill="none"/>
<polyline points="132.5,667.1 149.4,667.1 149.4,639.1 229.0,639.1 229.0,587.0 327.5,587.0" fill="none" stroke="#4a57ab" stroke-width="1.0" />
<path d="M136.0 664.1v6.0M137.7 664.1v6.0M139.4 664.1v6.0M141.1 664.1v6.0M142.8 664.1v6.0M144.5 664.1v6.0M146.2 664.1v6.0M147.9 664.1v6.0" stroke="#4a57ab" stroke-width="1.0" fill="none"/>
<path d="M153.5 636.1v6.0M156.5 636.1v6.0M160.0 636.1v6.0M163.0 636.1v6.0M171.5 636.1v6.0M182.0 636.1v6.0M184.0 636.1v6.0M202.0 636.1v6.0" stroke="#4a57ab" stroke-width="1.0" fill="none"/>
<path d="M324.5 587.0h6.0M327.5 584.0v6.0" stroke="#4a57ab" stroke-width="1.0" fill="none"/>
<polyline points="463.3,731.4 466.6,722.3 471.5,712.4 479.8,702.5 489.7,695.1 495.5,686.0 501.3,676.1 509.5,667.0 519.4,667.0 522.7,663.2" fill="none" stroke="#3d4aa2" stroke-width="3.3" stroke-linejoin="round" stroke-linecap="round"/>
<path d="M460.3 731.4h5.7M463.2 728.5v5.7M460.9 730.7h5.7M463.8 727.9v5.7M461.3 729.8h5.7M464.1 727.0v5.7M461.6 729.1h5.7M464.5 726.2v5.7M461.9 728.2h5.7M464.8 725.3v5.7M461.7 727.5h5.7M464.5 724.6v5.7M461.8 726.7h5.7M464.7 723.9v5.7M462.5 726.3h5.7M465.3 723.5v5.7M462.6 725.9h5.7M465.5 723.0v5.7M462.9 724.9h5.7M465.8 722.0v5.7M463.1 724.2h5.7M465.9 721.4v5.7M463.2 723.5h5.7M466.1 720.7v5.7M463.4 722.7h5.7M466.3 719.8v5.7M463.8 721.8h5.7M466.6 718.9v5.7M464.4 721.3h5.7M467.2 718.5v5.7M464.8 720.5h5.7M467.7 717.7v5.7M465.0 720.0h5.7M467.8 717.2v5.7M465.4 719.4h5.7M468.2 716.5v5.7M465.3 718.7h5.7M468.1 715.8v5.7M465.9 718.1h5.7M468.8 715.2v5.7M466.3 717.1h5.7M469.1 714.3v5.7M466.7 716.6h5.7M469.6 713.8v5.7M466.8 715.5h5.7M469.7 712.7v5.7M467.3 715.1h5.7M470.2 712.3v5.7M467.5 714.2h5.7M470.3 711.4v5.7M467.9 713.7h5.7M470.8 710.8v5.7M468.0 713.1h5.7M470.9 710.3v5.7M468.7 712.6h5.7M471.6 709.7v5.7M469.0 711.5h5.7M471.8 708.6v5.7M470.0 711.3h5.7M472.8 708.5v5.7M469.9 710.4h5.7M472.7 707.6v5.7M470.5 710.0h5.7M473.3 707.2v5.7M471.0 709.4h5.7M473.9 706.5v5.7M471.8 708.9h5.7M474.6 706.0v5.7M472.3 708.5h5.7M475.1 705.6v5.7M472.9 707.9h5.7M475.7 705.0v5.7M473.4 707.0h5.7M476.3 704.1v5.7M474.2 706.2h5.7M477.0 703.4v5.7M474.6 705.2h5.7M477.4 702.4v5.7M474.9 704.8h5.7M477.7 702.0v5.7M475.5 704.2h5.7M478.3 701.3v5.7M475.9 703.9h5.7M478.7 701.0v5.7M476.5 703.5h5.7M479.3 700.7v5.7M477.1 702.7h5.7M479.9 699.8v5.7M477.6 702.0h5.7M480.5 699.1v5.7M478.2 701.7h5.7M481.0 698.9v5.7M478.6 701.1h5.7M481.5 698.2v5.7M479.6 700.6h5.7M482.5 697.8v5.7M479.8 700.0h5.7M482.7 697.1v5.7M480.9 699.7h5.7M483.7 696.8v5.7M481.6 699.1h5.7M484.4 696.2v5.7M482.3 698.6h5.7M485.2 695.7v5.7M482.9 697.8h5.7M485.8 695.0v5.7M483.6 697.1h5.7M486.5 694.3v5.7M484.8 697.0h5.7M487.7 694.2v5.7M485.4 696.4h5.7M488.2 693.6v5.7M485.9 696.2h5.7M488.8 693.3v5.7M486.3 695.1h5.7M489.1 692.2v5.7M486.8 694.7h5.7M489.6 691.8v5.7M487.5 694.2h5.7M490.4 691.4v5.7M488.0 693.6h5.7M490.8 690.7v5.7M488.7 692.8h5.7M491.5 689.9v5.7M488.8 692.1h5.7M491.6 689.3v5.7M488.9 691.3h5.7M491.8 688.4v5.7M489.7 691.2h5.7M492.6 688.3v5.7M489.7 690.0h5.7M492.6 687.1v5.7M490.1 689.5h5.7M493.0 686.6v5.7M491.1 689.1h5.7M493.9 686.2v5.7M491.0 688.3h5.7M493.8 685.4v5.7M491.5 687.3h5.7M494.4 684.5v5.7M491.8 686.8h5.7M494.6 684.0v5.7M492.2 686.2h5.7M495.0 683.3v5.7M493.0 685.6h5.7M495.9 682.7v5.7M493.3 685.0h5.7M496.2 682.1v5.7M493.5 684.0h5.7M496.3 681.1v5.7M493.9 683.4h5.7M496.7 680.5v5.7M494.7 683.1h5.7M497.5 680.3v5.7M494.9 682.4h5.7M497.7 679.6v5.7M494.9 681.7h5.7M497.7 678.8v5.7M495.8 681.0h5.7M498.7 678.1v5.7M496.2 680.2h5.7M499.1 677.3v5.7M496.4 679.6h5.7M499.2 676.7v5.7M496.7 679.0h5.7M499.5 676.1v5.7M497.1 678.1h5.7M500.0 675.3v5.7M497.4 677.7h5.7M500.3 674.8v5.7M497.7 677.0h5.7M500.6 674.1v5.7M497.9 676.4h5.7M500.8 673.5v5.7M498.4 676.0h5.7M501.2 673.2v5.7M498.9 675.2h5.7M501.7 672.4v5.7M499.8 674.8h5.7M502.7 672.0v5.7M500.2 673.9h5.7M503.1 671.0v5.7M500.8 673.1h5.7M503.6 670.2v5.7M501.4 672.6h5.7M504.3 669.8v5.7M502.0 671.9h5.7M504.8 669.1v5.7M502.5 671.5h5.7M505.3 668.7v5.7M503.3 671.1h5.7M506.2 668.3v5.7M503.7 670.5h5.7M506.5 667.6v5.7M504.0 669.5h5.7M506.8 666.6v5.7M504.8 669.0h5.7M507.7 666.2v5.7M505.5 668.7h5.7M508.4 665.9v5.7M505.4 667.9h5.7M508.3 665.1v5.7M506.5 667.5h5.7M509.4 664.6v5.7M506.7 666.8h5.7M509.6 664.0v5.7M507.6 667.1h5.7M510.4 664.2v5.7M508.5 667.0h5.7M511.4 664.1v5.7M509.5 666.7h5.7M512.4 663.9v5.7M510.5 666.9h5.7M513.3 664.0v5.7M511.2 667.3h5.7M514.0 664.4v5.7M511.7 667.1h5.7M514.5 664.2v5.7M512.7 666.9h5.7M515.6 664.0v5.7M513.7 667.2h5.7M516.6 664.3v5.7M514.7 666.9h5.7M517.6 664.1v5.7M515.6 667.2h5.7M518.4 664.4v5.7M516.3 666.7h5.7M519.1 663.8v5.7M517.0 666.4h5.7M519.8 663.6v5.7M517.6 666.1h5.7M520.5 663.2v5.7M518.0 665.1h5.7M520.8 662.2v5.7M518.8 664.6h5.7M521.7 661.8v5.7M519.0 663.8h5.7M521.9 660.9v5.7M519.9 663.4h5.7M522.8 660.5v5.7" stroke="#3d4aa2" stroke-width="1.0" fill="none"/>
<polyline points="522.7,663.2 537.6,663.2" fill="none" stroke="#3d4aa2" stroke-width="1.6" stroke-linejoin="round" stroke-linecap="round"/>
<path d="M519.8 663.1h5.8M522.7 660.2v5.8M520.9 663.3h5.8M523.8 660.4v5.8M521.6 663.4h5.8M524.5 660.5v5.8M522.7 663.0h5.8M525.6 660.1v5.8M523.8 663.5h5.8M526.7 660.6v5.8M525.0 663.5h5.8M527.9 660.6v5.8M525.9 663.4h5.8M528.8 660.5v5.8M526.8 663.5h5.8M529.7 660.6v5.8M527.8 663.3h5.8M530.7 660.4v5.8M528.9 663.0h5.8M531.8 660.1v5.8M529.8 663.1h5.8M532.7 660.2v5.8M530.6 663.3h5.8M533.5 660.4v5.8M531.3 663.2h5.8M534.2 660.3v5.8M532.6 662.9h5.8M535.5 660.0v5.8M533.4 663.2h5.8M536.3 660.3v5.8M534.2 663.1h5.8M537.1 660.2v5.8" stroke="#3d4aa2" stroke-width="1.0" fill="none"/>
<polyline points="463.3,732.2 466.6,725.6 471.5,719.3 483.9,719.0 490.5,715.7" fill="none" stroke="#58a647" stroke-width="3.3" stroke-linejoin="round" stroke-linecap="round"/>
<path d="M460.2 732.1h5.7M463.1 729.2v5.7M461.1 731.7h5.7M463.9 728.8v5.7M461.1 730.7h5.7M464.0 727.8v5.7M461.4 729.8h5.7M464.3 726.9v5.7M461.7 729.3h5.7M464.5 726.4v5.7M462.2 728.4h5.7M465.1 725.5v5.7M463.0 727.9h5.7M465.8 725.1v5.7M462.9 726.7h5.7M465.8 723.9v5.7M463.3 726.0h5.7M466.2 723.2v5.7M464.1 725.2h5.7M466.9 722.4v5.7M464.7 724.6h5.7M467.6 721.8v5.7M464.9 724.0h5.7M467.7 721.1v5.7M465.7 723.6h5.7M468.5 720.8v5.7M465.9 722.8h5.7M468.8 719.9v5.7M466.7 722.0h5.7M469.6 719.2v5.7M467.0 721.0h5.7M469.8 718.1v5.7M468.0 720.4h5.7M470.8 717.6v5.7M468.3 719.9h5.7M471.2 717.0v5.7M468.4 719.1h5.7M471.2 716.3v5.7M469.7 719.6h5.7M472.5 716.7v5.7M470.6 719.5h5.7M473.5 716.6v5.7M471.3 719.0h5.7M474.1 716.2v5.7M472.0 719.1h5.7M474.8 716.2v5.7M473.0 719.2h5.7M475.8 716.3v5.7M474.0 719.0h5.7M476.9 716.2v5.7M474.6 719.2h5.7M477.4 716.3v5.7M475.2 719.3h5.7M478.0 716.5v5.7M475.9 719.0h5.7M478.8 716.1v5.7M476.8 719.0h5.7M479.7 716.1v5.7M477.8 719.2h5.7M480.7 716.4v5.7M478.7 719.3h5.7M481.5 716.4v5.7M479.2 718.9h5.7M482.1 716.0v5.7M480.3 719.2h5.7M483.2 716.3v5.7M480.8 719.1h5.7M483.7 716.3v5.7M481.6 718.8h5.7M484.4 716.0v5.7M482.2 718.4h5.7M485.0 715.5v5.7M482.9 718.3h5.7M485.8 715.4v5.7M483.8 717.7h5.7M486.7 714.8v5.7M484.6 717.1h5.7M487.5 714.3v5.7M485.3 716.7h5.7M488.1 713.9v5.7M486.0 716.3h5.7M488.9 713.4v5.7M487.2 716.2h5.7M490.0 713.3v5.7" stroke="#58a647" stroke-width="1.0" fill="none"/>
<polyline points="490.5,715.7 491.5,710.2 493.0,709.9 502.9,706.6 503.4,704.2 512.8,702.5 513.5,700.5 521.1,700.5" fill="none" stroke="#58a647" stroke-width="1.5" stroke-linejoin="round" stroke-linecap="round"/>
<path d="M488.0 715.8h5.6M490.8 713.0v5.6M488.2 714.1h5.6M491.0 711.3v5.6M488.5 713.2h5.6M491.3 710.4v5.6M488.7 712.2h5.6M491.5 709.4v5.6M488.6 711.0h5.6M491.4 708.2v5.6M489.1 710.5h5.6M491.9 707.7v5.6M490.5 709.5h5.6M493.3 706.7v5.6M491.6 709.5h5.6M494.4 706.7v5.6M493.0 708.7h5.6M495.8 705.9v5.6M494.6 708.4h5.6M497.4 705.6v5.6M495.8 708.3h5.6M498.6 705.5v5.6M497.0 707.9h5.6M499.8 705.1v5.6M498.4 707.0h5.6M501.2 704.2v5.6M499.3 706.9h5.6M502.1 704.1v5.6M500.3 706.6h5.6M503.1 703.8v5.6M500.5 705.1h5.6M503.3 702.3v5.6M501.1 704.4h5.6M503.9 701.6v5.6M502.5 703.7h5.6M505.3 700.9v5.6M503.8 703.8h5.6M506.6 701.0v5.6M505.2 703.6h5.6M508.0 700.8v5.6M506.5 703.4h5.6M509.3 700.6v5.6M507.5 702.9h5.6M510.3 700.1v5.6M508.5 702.8h5.6M511.3 700.0v5.6M509.5 702.3h5.6M512.3 699.5v5.6M510.4 701.9h5.6M513.2 699.1v5.6M510.7 700.8h5.6M513.5 698.0v5.6M511.6 700.2h5.6M514.4 697.4v5.6M512.5 700.8h5.6M515.3 698.0v5.6M513.6 700.8h5.6M516.4 698.0v5.6M515.1 700.5h5.6M517.9 697.7v5.6M516.3 700.5h5.6M519.1 697.7v5.6M517.8 700.3h5.6M520.6 697.5v5.6" stroke="#58a647" stroke-width="1.0" fill="none"/>
<polyline points="537.6,663.2 539.6,658.4 556.6,658.4 556.6,626.0 636.5,626.0 636.5,430.2" fill="none" stroke="#4a57ab" stroke-width="1.0" />
<path d="M539.6 655.4v6.0M543.4 655.4v6.0M547.8 655.4v6.0M549.5 655.4v6.0M551.6 655.4v6.0M554.1 655.4v6.0" stroke="#4a57ab" stroke-width="1.0" fill="none"/>
<path d="M560.5 623.0v6.0M563.5 623.0v6.0M567.0 623.0v6.0M570.0 623.0v6.0M578.5 623.0v6.0M589.0 623.0v6.0M591.0 623.0v6.0M609.0 623.0v6.0" stroke="#4a57ab" stroke-width="1.0" fill="none"/>
<polyline points="521.1,700.5 521.1,687.8 735.5,687.8" fill="none" stroke="#6eb15e" stroke-width="1.0" />
<path d="M521.5 684.8v6.0M522.7 684.8v6.0M524.2 684.8v6.0M525.3 684.8v6.0M526.4 684.8v6.0M528.2 684.8v6.0M529.5 684.8v6.0M530.9 684.8v6.0M532.0 684.8v6.0M533.5 684.8v6.0M535.5 684.8v6.0M537.4 684.8v6.0M538.5 684.8v6.0M539.8 684.8v6.0M541.3 684.8v6.0M543.1 684.8v6.0M544.8 684.8v6.0M546.4 684.8v6.0" stroke="#6eb15e" stroke-width="1.0" fill="none"/>
<path d="M549.2 684.8v6.0M552.5 684.8v6.0" stroke="#6eb15e" stroke-width="1.0" fill="none"/>
<path d="M732.5 687.8h6.0M735.5 684.8v6.0" stroke="#6eb15e" stroke-width="1.0" fill="none"/>
<polyline points="56.6,1142.2 66.5,1132.1 71.5,1131.2 78.9,1124.3 92.1,1123.8 97.9,1119.7 107.0,1119.7 108.6,1118.0 117.7,1117.2 122.7,1111.4 135.9,1109.8 144.2,1102.3" fill="none" stroke="#3d4aa2" stroke-width="3.3" stroke-linejoin="round" stroke-linecap="round"/>
<path d="M53.6 1142.0h5.7M56.4 1139.2v5.7M54.1 1141.6h5.7M56.9 1138.7v5.7M55.1 1141.2h5.7M57.9 1138.4v5.7M55.3 1140.1h5.7M58.2 1137.3v5.7M56.1 1139.7h5.7M59.0 1136.8v5.7M56.8 1139.2h5.7M59.7 1136.3v5.7M56.9 1138.5h5.7M59.8 1135.7v5.7M57.7 1138.3h5.7M60.6 1135.5v5.7M58.2 1138.0h5.7M61.0 1135.2v5.7M58.7 1137.6h5.7M61.5 1134.8v5.7M58.6 1136.9h5.7M61.5 1134.0v5.7M59.7 1136.5h5.7M62.6 1133.7v5.7M60.1 1135.7h5.7M63.0 1132.9v5.7M60.5 1135.1h5.7M63.4 1132.3v5.7M61.0 1134.7h5.7M63.9 1131.8v5.7M61.9 1134.3h5.7M64.7 1131.4v5.7M62.3 1133.8h5.7M65.1 1130.9v5.7M62.9 1133.2h5.7M65.8 1130.4v5.7M63.6 1132.6h5.7M66.4 1129.7v5.7M63.8 1132.2h5.7M66.7 1129.3v5.7M64.6 1132.0h5.7M67.5 1129.2v5.7M65.6 1131.7h5.7M68.4 1128.8v5.7M66.3 1131.4h5.7M69.2 1128.5v5.7M67.0 1131.6h5.7M69.9 1128.8v5.7M67.6 1131.2h5.7M70.5 1128.3v5.7M68.6 1131.4h5.7M71.5 1128.5v5.7M69.3 1130.4h5.7M72.2 1127.6v5.7M69.9 1129.8h5.7M72.7 1127.0v5.7M70.6 1129.1h5.7M73.4 1126.2v5.7M71.2 1128.6h5.7M74.1 1125.8v5.7M72.0 1128.1h5.7M74.9 1125.2v5.7M72.7 1127.5h5.7M75.5 1124.6v5.7M73.4 1126.8h5.7M76.2 1124.0v5.7M74.0 1126.6h5.7M76.9 1123.8v5.7M74.1 1126.0h5.7M77.0 1123.1v5.7M74.6 1125.2h5.7M77.5 1122.4v5.7M75.6 1125.2h5.7M78.4 1122.3v5.7M75.7 1124.5h5.7M78.6 1121.6v5.7M76.4 1124.4h5.7M79.2 1121.6v5.7M77.1 1124.3h5.7M80.0 1121.4v5.7M77.9 1124.1h5.7M80.8 1121.2v5.7M78.5 1123.9h5.7M81.4 1121.0v5.7M79.4 1124.4h5.7M82.3 1121.6v5.7M80.0 1124.3h5.7M82.9 1121.5v5.7M80.6 1124.3h5.7M83.4 1121.4v5.7M81.5 1124.3h5.7M84.3 1121.4v5.7M82.1 1124.1h5.7M84.9 1121.2v5.7M82.7 1124.0h5.7M85.6 1121.1v5.7M83.8 1124.3h5.7M86.7 1121.5v5.7M84.5 1124.1h5.7M87.3 1121.3v5.7M85.1 1123.7h5.7M87.9 1120.8v5.7M86.1 1124.2h5.7M89.0 1121.4v5.7M87.0 1123.7h5.7M89.8 1120.8v5.7M88.1 1124.1h5.7M90.9 1121.3v5.7M88.7 1123.9h5.7M91.5 1121.0v5.7M89.5 1123.7h5.7M92.4 1120.8v5.7M90.6 1123.3h5.7M93.4 1120.5v5.7M90.9 1122.9h5.7M93.7 1120.0v5.7M91.4 1122.2h5.7M94.2 1119.3v5.7M92.2 1121.6h5.7M95.0 1118.7v5.7M92.8 1121.6h5.7M95.7 1118.8v5.7M93.4 1120.5h5.7M96.2 1117.7v5.7M94.4 1120.4h5.7M97.3 1117.6v5.7M95.1 1119.9h5.7M97.9 1117.0v5.7M95.8 1119.6h5.7M98.7 1116.8v5.7M96.5 1119.9h5.7M99.4 1117.1v5.7M97.5 1120.0h5.7M100.3 1117.2v5.7M98.5 1119.8h5.7M101.3 1116.9v5.7M99.4 1119.4h5.7M102.2 1116.5v5.7M100.0 1119.8h5.7M102.8 1117.0v5.7M100.9 1120.0h5.7M103.8 1117.1v5.7M101.8 1119.5h5.7M104.6 1116.6v5.7M102.5 1120.0h5.7M105.3 1117.2v5.7M103.6 1119.6h5.7M106.4 1116.8v5.7M103.9 1119.5h5.7M106.8 1116.6v5.7M104.5 1118.8h5.7M107.4 1116.0v5.7M105.2 1118.4h5.7M108.0 1115.5v5.7M106.1 1117.8h5.7M108.9 1115.0v5.7M107.0 1117.8h5.7M109.8 1114.9v5.7M107.7 1118.2h5.7M110.5 1115.3v5.7M108.2 1118.0h5.7M111.0 1115.2v5.7M108.9 1117.7h5.7M111.8 1114.8v5.7M109.6 1117.5h5.7M112.5 1114.7v5.7M110.4 1117.6h5.7M113.3 1114.8v5.7M111.1 1117.7h5.7M113.9 1114.8v5.7M112.1 1117.6h5.7M114.9 1114.8v5.7M113.0 1117.1h5.7M115.9 1114.2v5.7M114.0 1117.4h5.7M116.9 1114.5v5.7M114.6 1117.3h5.7M117.5 1114.5v5.7M115.2 1117.0h5.7M118.1 1114.2v5.7M115.4 1116.2h5.7M118.2 1113.4v5.7M116.1 1115.9h5.7M119.0 1113.0v5.7M116.7 1115.5h5.7M119.5 1112.7v5.7M117.0 1115.0h5.7M119.9 1112.1v5.7M117.5 1114.6h5.7M120.3 1111.8v5.7M117.8 1113.6h5.7M120.7 1110.7v5.7M118.2 1112.8h5.7M121.1 1110.0v5.7M119.0 1112.1h5.7M121.9 1109.3v5.7M119.6 1111.5h5.7M122.5 1108.7v5.7M120.5 1111.1h5.7M123.3 1108.3v5.7M121.5 1111.1h5.7M124.4 1108.2v5.7M122.4 1111.4h5.7M125.3 1108.5v5.7M123.0 1111.2h5.7M125.8 1108.3v5.7M123.9 1110.7h5.7M126.7 1107.9v5.7M124.5 1110.5h5.7M127.4 1107.6v5.7M125.1 1110.6h5.7M128.0 1107.8v5.7M126.1 1110.5h5.7M128.9 1107.6v5.7M127.1 1110.3h5.7M129.9 1107.5v5.7M127.9 1110.6h5.7M130.7 1107.7v5.7M128.5 1110.3h5.7M131.3 1107.4v5.7M129.4 1110.5h5.7M132.3 1107.6v5.7M130.0 1109.9h5.7M132.9 1107.0v5.7M130.7 1110.0h5.7M133.5 1107.2v5.7M131.4 1109.9h5.7M134.2 1107.1v5.7M132.1 1110.2h5.7M135.0 1107.4v5.7M133.3 1110.0h5.7M136.2 1107.1v5.7M133.8 1109.1h5.7M136.7 1106.3v5.7M134.0 1108.5h5.7M136.9 1105.7v5.7M135.0 1108.1h5.7M137.9 1105.3v5.7M135.5 1107.4h5.7M138.3 1104.5v5.7M136.3 1107.2h5.7M139.2 1104.4v5.7M137.0 1106.7h5.7M139.8 1103.8v5.7M137.0 1105.8h5.7M139.8 1103.0v5.7M137.9 1105.5h5.7M140.8 1102.6v5.7M138.6 1104.6h5.7M141.4 1101.8v5.7M139.2 1104.2h5.7M142.0 1101.3v5.7M139.9 1103.5h5.7M142.8 1100.7v5.7M140.4 1103.2h5.7M143.2 1100.3v5.7M140.6 1102.6h5.7M143.4 1099.8v5.7" stroke="#3d4aa2" stroke-width="1.0" fill="none"/>
<polyline points="144.2,1102.3 153.2,1101.5 155.7,1100.7 171.4,1100.3 173.1,1097.7" fill="none" stroke="#3d4aa2" stroke-width="2.0" stroke-linejoin="round" stroke-linecap="round"/>
<path d="M141.3 1102.2h5.8M144.2 1099.3v5.8M142.2 1102.4h5.8M145.1 1099.5v5.8M143.3 1101.9h5.8M146.2 1099.0v5.8M144.1 1102.3h5.8M147.0 1099.4v5.8M145.1 1102.3h5.8M148.0 1099.4v5.8M146.2 1102.0h5.8M149.1 1099.1v5.8M147.0 1102.1h5.8M149.9 1099.2v5.8M147.9 1102.0h5.8M150.8 1099.1v5.8M148.9 1101.8h5.8M151.8 1098.9v5.8M149.9 1101.5h5.8M152.8 1098.6v5.8M150.6 1101.4h5.8M153.5 1098.5v5.8M151.4 1101.5h5.8M154.3 1098.6v5.8M152.2 1101.0h5.8M155.1 1098.1v5.8M152.8 1100.7h5.8M155.7 1097.8v5.8M154.0 1100.8h5.8M156.9 1097.9v5.8M154.8 1101.0h5.8M157.7 1098.1v5.8M155.5 1100.4h5.8M158.4 1097.5v5.8M156.2 1100.9h5.8M159.1 1098.0v5.8M157.2 1100.3h5.8M160.1 1097.4v5.8M158.2 1100.6h5.8M161.1 1097.7v5.8M159.4 1100.5h5.8M162.3 1097.6v5.8M160.2 1100.5h5.8M163.1 1097.6v5.8M160.8 1100.4h5.8M163.7 1097.5v5.8M161.7 1100.3h5.8M164.6 1097.4v5.8M162.3 1100.7h5.8M165.2 1097.8v5.8M163.0 1100.6h5.8M165.9 1097.7v5.8M164.0 1100.7h5.8M166.9 1097.8v5.8M164.8 1100.7h5.8M167.7 1097.8v5.8M165.4 1100.3h5.8M168.3 1097.4v5.8M166.1 1100.5h5.8M169.0 1097.6v5.8M166.8 1100.0h5.8M169.7 1097.1v5.8M167.4 1100.5h5.8M170.3 1097.6v5.8M168.5 1100.3h5.8M171.4 1097.4v5.8M169.0 1099.8h5.8M171.9 1096.9v5.8M169.3 1098.6h5.8M172.2 1095.7v5.8M170.0 1097.8h5.8M172.9 1094.9v5.8" stroke="#3d4aa2" stroke-width="1.0" fill="none"/>
<polyline points="173.3,1097.7 230.0,1097.7 230.0,1092.0 272.8,1092.0 272.8,1036.5 281.5,1036.5 281.5,971.4 284.5,971.4" fill="none" stroke="#4a57ab" stroke-width="1.0" />
<path d="M174.0 1094.7v6.0M175.1 1094.7v6.0M176.0 1094.7v6.0M177.7 1094.7v6.0M179.3 1094.7v6.0M180.2 1094.7v6.0M181.3 1094.7v6.0M182.6 1094.7v6.0M184.2 1094.7v6.0M185.5 1094.7v6.0M186.6 1094.7v6.0M187.9 1094.7v6.0M189.3 1094.7v6.0M190.2 1094.7v6.0M191.8 1094.7v6.0M193.1 1094.7v6.0M194.0 1094.7v6.0M195.1 1094.7v6.0M196.3 1094.7v6.0M197.5 1094.7v6.0M198.5 1094.7v6.0M201.2 1094.7v6.0M202.8 1094.7v6.0M204.5 1094.7v6.0M205.9 1094.7v6.0M207.1 1094.7v6.0M208.1 1094.7v6.0M209.5 1094.7v6.0M211.0 1094.7v6.0M212.3 1094.7v6.0M213.5 1094.7v6.0M215.4 1094.7v6.0M217.1 1094.7v6.0M218.2 1094.7v6.0M219.0 1094.7v6.0M219.9 1094.7v6.0M220.9 1094.7v6.0M222.7 1094.7v6.0M223.7 1094.7v6.0M224.6 1094.7v6.0M226.4 1094.7v6.0M227.7 1094.7v6.0M230.0 1094.7v6.0" stroke="#4a57ab" stroke-width="1.0" fill="none"/>
<path d="M231.8 1089.0v6.0M233.1 1089.0v6.0M238.3 1089.0v6.0M243.4 1089.0v6.0M246.0 1089.0v6.0M251.9 1089.0v6.0M253.1 1089.0v6.0M254.4 1089.0v6.0M259.0 1089.0v6.0M266.7 1089.0v6.0M270.6 1089.0v6.0" stroke="#4a57ab" stroke-width="1.0" fill="none"/>
<path d="M275.1 1036.5h6.0M278.1 1033.5v6.0" stroke="#4a57ab" stroke-width="1.0" fill="none"/>
<path d="M281.5 971.4h6.0M284.5 968.4v6.0" stroke="#4a57ab" stroke-width="1.0" fill="none"/>
<polyline points="463.1,1143.0 470.7,1137.3 477.0,1135.6 485.3,1127.9 498.7,1127.7 505.0,1122.6 514.5,1122.4 516.5,1120.1 524.1,1119.5 527.9,1115.7 534.2,1115.0 547.0,1113.1 551.4,1112.5" fill="none" stroke="#3d4aa2" stroke-width="3.3" stroke-linejoin="round" stroke-linecap="round"/>
<path d="M460.4 1143.2h5.7M463.3 1140.4v5.7M461.1 1142.5h5.7M464.0 1139.7v5.7M461.5 1142.1h5.7M464.3 1139.3v5.7M462.1 1142.0h5.7M465.0 1139.2v5.7M462.2 1141.3h5.7M465.1 1138.4v5.7M463.1 1140.7h5.7M466.0 1137.9v5.7M463.8 1140.0h5.7M466.7 1137.2v5.7M465.1 1139.8h5.7M467.9 1137.0v5.7M465.3 1138.9h5.7M468.1 1136.0v5.7M466.0 1138.3h5.7M468.8 1135.5v5.7M466.9 1138.3h5.7M469.7 1135.5v5.7M467.5 1137.6h5.7M470.3 1134.8v5.7M467.9 1137.2h5.7M470.7 1134.4v5.7M468.7 1136.8h5.7M471.5 1133.9v5.7M469.6 1136.6h5.7M472.5 1133.8v5.7M470.5 1136.3h5.7M473.3 1133.5v5.7M471.6 1136.5h5.7M474.5 1133.6v5.7M472.2 1136.1h5.7M475.0 1133.3v5.7M473.1 1136.2h5.7M476.0 1133.4v5.7M473.8 1135.5h5.7M476.7 1132.7v5.7M474.3 1135.4h5.7M477.2 1132.5v5.7M475.3 1134.8h5.7M478.1 1131.9v5.7M475.9 1134.3h5.7M478.7 1131.5v5.7M476.4 1133.9h5.7M479.3 1131.1v5.7M477.1 1133.1h5.7M480.0 1130.2v5.7M477.6 1132.7h5.7M480.5 1129.8v5.7M477.9 1132.2h5.7M480.8 1129.3v5.7M478.3 1131.8h5.7M481.2 1129.0v5.7M478.8 1131.0h5.7M481.6 1128.1v5.7M479.3 1130.4h5.7M482.2 1127.5v5.7M480.3 1130.1h5.7M483.1 1127.3v5.7M480.5 1129.2h5.7M483.4 1126.4v5.7M481.3 1128.5h5.7M484.2 1125.6v5.7M482.3 1128.2h5.7M485.1 1125.4v5.7M482.9 1127.6h5.7M485.8 1124.8v5.7M483.5 1127.8h5.7M486.4 1124.9v5.7M484.5 1128.0h5.7M487.4 1125.1v5.7M485.5 1127.8h5.7M488.3 1124.9v5.7M486.4 1128.0h5.7M489.2 1125.1v5.7M487.3 1128.0h5.7M490.2 1125.1v5.7M488.1 1128.1h5.7M490.9 1125.2v5.7M488.8 1128.1h5.7M491.7 1125.2v5.7M489.5 1127.8h5.7M492.4 1124.9v5.7M490.1 1127.5h5.7M493.0 1124.6v5.7M491.1 1127.8h5.7M493.9 1125.0v5.7M491.8 1128.1h5.7M494.7 1125.2v5.7M492.5 1127.5h5.7M495.4 1124.7v5.7M493.5 1127.5h5.7M496.4 1124.7v5.7M494.3 1127.7h5.7M497.2 1124.8v5.7M495.1 1128.0h5.7M497.9 1125.1v5.7M495.7 1127.5h5.7M498.6 1124.6v5.7M496.6 1127.1h5.7M499.4 1124.3v5.7M497.2 1126.9h5.7M500.0 1124.0v5.7M497.6 1126.0h5.7M500.4 1123.1v5.7M498.2 1125.8h5.7M501.1 1122.9v5.7M498.8 1125.0h5.7M501.6 1122.2v5.7M499.6 1124.4h5.7M502.5 1121.5v5.7M500.5 1124.4h5.7M503.3 1121.5v5.7M501.1 1123.7h5.7M504.0 1120.8v5.7M501.4 1122.8h5.7M504.2 1120.0v5.7M502.2 1122.5h5.7M505.0 1119.7v5.7M503.1 1122.3h5.7M506.0 1119.5v5.7M504.0 1122.3h5.7M506.8 1119.4v5.7M504.7 1122.8h5.7M507.6 1119.9v5.7M505.3 1122.3h5.7M508.2 1119.4v5.7M506.0 1122.7h5.7M508.9 1119.9v5.7M507.0 1122.4h5.7M509.9 1119.5v5.7M508.0 1122.7h5.7M510.9 1119.9v5.7M508.7 1122.3h5.7M511.6 1119.4v5.7M509.4 1122.8h5.7M512.3 1119.9v5.7M510.0 1122.1h5.7M512.9 1119.3v5.7M510.9 1122.6h5.7M513.7 1119.8v5.7M511.5 1122.1h5.7M514.4 1119.3v5.7M512.3 1121.9h5.7M515.2 1119.0v5.7M512.6 1121.3h5.7M515.5 1118.5v5.7M513.0 1120.7h5.7M515.9 1117.8v5.7M513.7 1120.0h5.7M516.5 1117.2v5.7M514.6 1119.7h5.7M517.4 1116.9v5.7M515.5 1119.9h5.7M518.3 1117.1v5.7M516.2 1120.1h5.7M519.1 1117.2v5.7M516.9 1119.8h5.7M519.8 1117.0v5.7M517.7 1119.6h5.7M520.6 1116.8v5.7M518.3 1119.7h5.7M521.2 1116.8v5.7M518.9 1119.9h5.7M521.8 1117.1v5.7M519.8 1119.6h5.7M522.6 1116.8v5.7M520.4 1119.7h5.7M523.3 1116.9v5.7M521.4 1119.6h5.7M524.3 1116.7v5.7M522.1 1118.9h5.7M524.9 1116.0v5.7M522.2 1118.2h5.7M525.1 1115.3v5.7M522.8 1117.6h5.7M525.7 1114.8v5.7M523.4 1117.4h5.7M526.2 1114.6v5.7M523.9 1116.7h5.7M526.8 1113.9v5.7M524.4 1115.9h5.7M527.2 1113.0v5.7M525.4 1115.5h5.7M528.2 1112.7v5.7M526.1 1115.3h5.7M529.0 1112.5v5.7M526.9 1115.4h5.7M529.8 1112.5v5.7M527.5 1115.2h5.7M530.3 1112.4v5.7M528.6 1115.1h5.7M531.4 1112.3v5.7M529.4 1115.1h5.7M532.2 1112.2v5.7M530.3 1115.2h5.7M533.1 1112.4v5.7M531.2 1115.1h5.7M534.1 1112.3v5.7M532.2 1114.9h5.7M535.1 1112.1v5.7M532.9 1115.1h5.7M535.8 1112.3v5.7M533.9 1114.6h5.7M536.7 1111.8v5.7M534.9 1114.3h5.7M537.7 1111.4v5.7M535.7 1114.2h5.7M538.5 1111.4v5.7M536.5 1114.2h5.7M539.3 1111.4v5.7M537.3 1113.8h5.7M540.1 1111.0v5.7M538.4 1114.2h5.7M541.2 1111.3v5.7M539.3 1113.7h5.7M542.1 1110.9v5.7M539.8 1113.4h5.7M542.7 1110.6v5.7M540.7 1113.6h5.7M543.6 1110.8v5.7M541.4 1113.5h5.7M544.2 1110.6v5.7M542.3 1113.6h5.7M545.1 1110.7v5.7M543.0 1113.3h5.7M545.9 1110.5v5.7M543.7 1112.9h5.7M546.5 1110.1v5.7M544.6 1113.4h5.7M547.5 1110.5v5.7M545.5 1113.0h5.7M548.4 1110.2v5.7M546.3 1113.2h5.7M549.1 1110.3v5.7M547.2 1112.7h5.7M550.0 1109.9v5.7M547.8 1112.7h5.7M550.6 1109.8v5.7" stroke="#3d4aa2" stroke-width="1.0" fill="none"/>
<polyline points="551.4,1112.5 551.8,1106.8 560.5,1106.3 561.7,1104.0 578.3,1104.0 579.5,1099.9 636.7,1099.9 636.7,1091.0 687.3,1091.0" fill="none" stroke="#4a57ab" stroke-width="1.0" />
<path d="M552.5 1103.6v6.0M553.4 1103.6v6.0M555.0 1103.6v6.0M556.5 1103.6v6.0M558.0 1103.6v6.0M558.9 1103.6v6.0" stroke="#4a57ab" stroke-width="1.0" fill="none"/>
<path d="M562.0 1101.0v6.0M563.6 1101.0v6.0M565.0 1101.0v6.0M565.8 1101.0v6.0M567.1 1101.0v6.0M568.3 1101.0v6.0M569.2 1101.0v6.0M570.2 1101.0v6.0M571.7 1101.0v6.0M573.1 1101.0v6.0M574.6 1101.0v6.0M576.1 1101.0v6.0M577.1 1101.0v6.0" stroke="#4a57ab" stroke-width="1.0" fill="none"/>
<path d="M580.0 1096.9v6.0M582.1 1096.9v6.0M583.1 1096.9v6.0M584.2 1096.9v6.0M585.4 1096.9v6.0M588.7 1096.9v6.0M590.6 1096.9v6.0M592.4 1096.9v6.0M593.3 1096.9v6.0M595.0 1096.9v6.0M596.2 1096.9v6.0M597.5 1096.9v6.0M598.6 1096.9v6.0M600.2 1096.9v6.0M601.9 1096.9v6.0M603.4 1096.9v6.0M604.4 1096.9v6.0M606.1 1096.9v6.0M607.2 1096.9v6.0M608.9 1096.9v6.0M610.5 1096.9v6.0M611.7 1096.9v6.0M613.0 1096.9v6.0M614.5 1096.9v6.0M615.6 1096.9v6.0M617.1 1096.9v6.0M618.2 1096.9v6.0M620.0 1096.9v6.0M621.7 1096.9v6.0M622.5 1096.9v6.0M624.6 1096.9v6.0M625.7 1096.9v6.0M627.2 1096.9v6.0M628.5 1096.9v6.0M630.0 1096.9v6.0M631.2 1096.9v6.0M632.3 1096.9v6.0M634.0 1096.9v6.0M635.9 1096.9v6.0" stroke="#4a57ab" stroke-width="1.0" fill="none"/>
<path d="M639.7 1088.0v6.0M644.6 1088.0v6.0M645.4 1088.0v6.0M650.4 1088.0v6.0M658.6 1088.0v6.0M659.6 1088.0v6.0M661.0 1088.0v6.0M665.7 1088.0v6.0M677.7 1088.0v6.0M685.1 1088.0v6.0" stroke="#4a57ab" stroke-width="1.0" fill="none"/>
<polyline points="463.7,1141.3 463.7,1133.5 467.5,1129.6 469.4,1128.4 472.0,1114.4 473.9,1112.5 477.0,1110.6 479.6,1107.4 482.1,1106.1 486.0,1103.2 496.1,1103.2 496.1,1102.1 528.5,1102.1 528.5,1090.5 536.1,1090.5 536.1,1087.7 545.7,1087.7 545.7,1082.3 680.0,1082.3 680.0,1021.5 688.8,1021.5 688.8,961.7 691.4,961.7" fill="none" stroke="#6eb15e" stroke-width="1.0" />
<path d="M461.2 1140.4h5.0M463.7 1137.9v5.0M461.8 1133.7h5.0M464.3 1131.2v5.0M465.0 1129.6h5.0M467.5 1127.1v5.0M466.9 1128.4h5.0M469.4 1125.9v5.0M471.4 1112.5h5.0M473.9 1110.0v5.0M474.5 1110.6h5.0M477.0 1108.1v5.0M477.1 1107.4h5.0M479.6 1104.9v5.0M479.6 1106.1h5.0M482.1 1103.6v5.0M482.0 1104.3h5.0M484.5 1101.8v5.0M483.5 1103.2h5.0M486.0 1100.7v5.0M489.2 1103.2h5.0M491.7 1100.7v5.0" stroke="#6eb15e" stroke-width="1.0" fill="none"/>
<path d="M497.4 1099.1v6.0M498.6 1099.1v6.0M499.6 1099.1v6.0M501.1 1099.1v6.0M502.1 1099.1v6.0M503.3 1099.1v6.0M504.3 1099.1v6.0M505.6 1099.1v6.0M507.3 1099.1v6.0M509.1 1099.1v6.0M510.5 1099.1v6.0M511.7 1099.1v6.0M513.2 1099.1v6.0M516.4 1099.1v6.0M520.3 1099.1v6.0M521.8 1099.1v6.0M523.4 1099.1v6.0M526.6 1099.1v6.0" stroke="#6eb15e" stroke-width="1.0" fill="none"/>
<path d="M529.8 1087.5v6.0M532.3 1087.5v6.0M534.9 1087.5v6.0" stroke="#6eb15e" stroke-width="1.0" fill="none"/>
<path d="M537.4 1084.7v6.0M538.6 1084.7v6.0M539.8 1084.7v6.0M540.8 1084.7v6.0M545.0 1084.7v6.0" stroke="#6eb15e" stroke-width="1.0" fill="none"/>
<path d="M547.5 1079.3v6.0M549.2 1079.3v6.0M550.5 1079.3v6.0M552.2 1079.3v6.0M553.8 1079.3v6.0M555.8 1079.3v6.0M557.3 1079.3v6.0M558.4 1079.3v6.0M560.2 1079.3v6.0M561.8 1079.3v6.0M563.8 1079.3v6.0M565.9 1079.3v6.0M567.6 1079.3v6.0M569.1 1079.3v6.0M570.3 1079.3v6.0M572.0 1079.3v6.0" stroke="#6eb15e" stroke-width="1.0" fill="none"/>
<path d="M575.7 1079.3v6.0M578.3 1079.3v6.0M582.0 1079.3v6.0M587.1 1079.3v6.0M597.3 1079.3v6.0M601.1 1079.3v6.0M604.9 1079.3v6.0M610.0 1079.3v6.0M616.4 1079.3v6.0M621.5 1079.3v6.0M629.7 1079.3v6.0M631.0 1079.3v6.0M638.6 1079.3v6.0M639.4 1079.3v6.0M653.0 1079.3v6.0M673.3 1079.3v6.0M677.3 1079.3v6.0" stroke="#6eb15e" stroke-width="1.0" fill="none"/>
<path d="M688.4 961.7h6.0M691.4 958.7v6.0" stroke="#6eb15e" stroke-width="1.0" fill="none"/>
<rect x="697.9" y="23.9" width="61.4" height="30.9" fill="#fff"/>
<path d="M705.0 36.5H712.5V32.2H720.6V35.9" stroke="#4a57ab" stroke-width="1" fill="none"/>
<text x="723.5" y="37.5" class="l">Male</text>
<path d="M705.0 46.7H712.5V42.4H720.6V46.1" stroke="#6eb15e" stroke-width="1" fill="none"/>
<text x="723.5" y="47.7" class="l">Female</text>
<rect x="697.9" y="436.7" width="61.4" height="30.5" fill="#fff"/>
<path d="M705.0 448.9H712.5V444.6H720.6V448.3" stroke="#4a57ab" stroke-width="1" fill="none"/>
<text x="723.5" y="450.0" class="l">Male</text>
<path d="M705.0 459.1H712.5V454.8H720.6V458.5" stroke="#6eb15e" stroke-width="1" fill="none"/>
<text x="723.5" y="460.2" class="l">Female</text>
<rect x="672" y="849" width="88.3" height="35.6" fill="#fff"/>
<path d="M680.8 863.5H688.3V859.2H696.4V862.9" stroke="#4a57ab" stroke-width="1" fill="none"/>
<text x="699.3" y="865.0" class="l">ERCP/ESWL</text>
<path d="M680.8 873.5H688.3V869.2H696.4V872.9" stroke="#6eb15e" stroke-width="1" fill="none"/>
<text x="699.3" y="875.0" class="l">Surgery</text>
</svg>
</body></html>
